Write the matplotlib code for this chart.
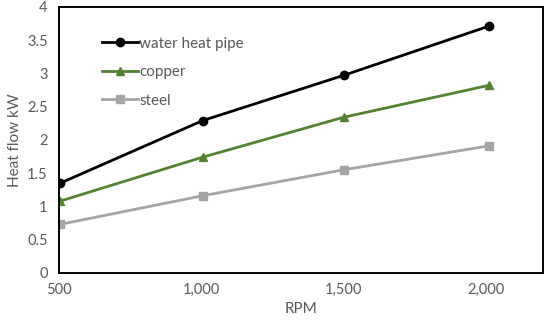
import matplotlib
matplotlib.use("Agg")
import matplotlib.pyplot as plt

rpm = [505, 1005, 1500, 2010]
water_heat_pipe = [1.35, 2.29, 2.97, 3.71]
copper = [1.08, 1.74, 2.34, 2.82]
steel = [0.73, 1.16, 1.55, 1.91]
x_ticks = [500, 1000, 1500, 2000]
x_tick_labels = ["500", "1,000", "1,500", "2,000"]
y_ticks = [0, 0.5, 1, 1.5, 2, 2.5, 3, 3.5, 4]
y_tick_labels = ["0", "0.5", "1", "1.5", "2", "2.5", "3", "3.5", "4"]

plt.rcParams['font.family'] = ['Lato', 'DejaVu Sans']
txt = '#595959'

fig = plt.figure(figsize=(5.5, 3.28), dpi=100)
ax = fig.add_axes([0.107, 0.168, 0.880, 0.811])

ax.plot(rpm, water_heat_pipe, color='black', lw=2, marker='o', ms=6, label='water heat pipe')
ax.plot(rpm, copper, color='#548235', lw=2, marker='^', ms=5.5, label='copper')
ax.plot(rpm, steel, color='#A5A5A5', lw=2, marker='s', ms=5.5, label='steel')

ax.set_xlim(500, 2200)
ax.set_ylim(0, 4)
ax.set_xticks(x_ticks)
ax.set_xticklabels(x_tick_labels)
ax.set_yticks(y_ticks)
ax.set_yticklabels(y_tick_labels)
ax.tick_params(length=0, labelsize=10.5, colors=txt)
ax.tick_params(axis='x', pad=7)
ax.tick_params(axis='y', pad=8)
for s in ax.spines.values():
    s.set_color('black')
    s.set_linewidth(1.4)

ax.set_xlabel('RPM', fontsize=11, color=txt, labelpad=4)
ax.set_ylabel('Heat flow kW', fontsize=11, color=txt, labelpad=4)

leg = ax.legend(loc='upper left', bbox_to_anchor=(0.06, 0.94), frameon=False,
                fontsize=11, handlelength=2.4, handletextpad=0.05, labelspacing=0.95)
for t in leg.get_texts():
    t.set_color(txt)

fig.savefig('out.png', dpi=100)
